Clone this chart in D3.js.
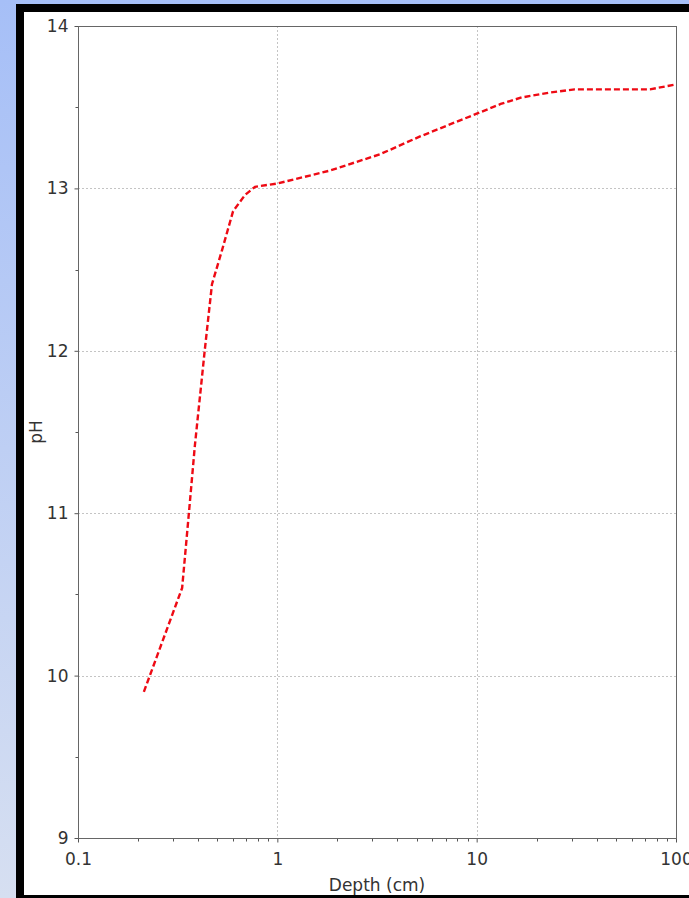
<!DOCTYPE html>
<html>
<head>
<meta charset="utf-8">
<script src="https://cdn.jsdelivr.net/npm/d3@7"></script>
<style>
  body { margin: 0; overflow: hidden; }
  text { font-family: "DejaVu Sans", sans-serif; fill: #333; }
</style>
</head>
<body>
<div id="chart"></div>
<script>
// depth (cm) and pH
var depth = [0.214, 0.333, 0.36, 0.386, 0.433, 0.47, 0.528, 0.60, 0.689, 0.773, 1.0, 1.84, 3.27, 5.2, 10, 13.2, 16.8, 23.3, 31, 74, 100];
var ph    = [9.90, 10.54, 11.00, 11.42, 12.01, 12.41, 12.62, 12.86, 12.96, 13.01, 13.03, 13.11, 13.21, 13.32, 13.46, 13.52, 13.56, 13.59, 13.61, 13.61, 13.64];

var xTicks = [0.1, 1, 10, 100];
var yTicks = [9, 10, 11, 12, 13, 14];

var width = 689,
    height = 898;

var svg = d3.select("#chart").append("svg")
    .attr("width", width)
    .attr("height", height);

// background: blue gradient + black frame + white page
var grad = svg.append("defs").append("linearGradient")
    .attr("id", "bg")
    .attr("x1", 0).attr("y1", 0).attr("x2", 0).attr("y2", 1);
grad.append("stop").attr("offset", "0%").attr("stop-color", "#a6bff7");
grad.append("stop").attr("offset", "100%").attr("stop-color", "#d6dff1");

svg.append("rect").attr("width", width).attr("height", height).attr("fill", "url(#bg)");
svg.append("rect").attr("x", 16).attr("y", 4).attr("width", width - 16).attr("height", height - 4).attr("fill", "#000");
svg.append("rect").attr("x", 24).attr("y", 12).attr("width", width - 24).attr("height", 883).attr("fill", "#fff");

var pLeft = 78, pRight = 676, pTop = 26, pBottom = 838;

var x = d3.scaleLog().domain([0.1, 100]).range([pLeft, pRight]);
var y = d3.scaleLinear().domain([9, 14]).range([pBottom, pTop]);

// grid
svg.append("g").selectAll("line")
    .data(xTicks.slice(1, -1))
    .enter().append("line")
    .attr("x1", function(d) { return Math.round(x(d)) + 0.5; })
    .attr("x2", function(d) { return Math.round(x(d)) + 0.5; })
    .attr("y1", pTop).attr("y2", pBottom)
    .attr("stroke", "#c4c4c4").attr("stroke-dasharray", "2,2");

svg.append("g").selectAll("line")
    .data(yTicks.slice(1, -1))
    .enter().append("line")
    .attr("y1", function(d) { return Math.round(y(d)) + 0.5; })
    .attr("y2", function(d) { return Math.round(y(d)) + 0.5; })
    .attr("x1", pLeft).attr("x2", pRight)
    .attr("stroke", "#c4c4c4").attr("stroke-dasharray", "2,2");

// axes
var minorX = [];
[0.1, 1, 10].forEach(function(b) {
    for (var i = 2; i <= 9; i++) minorX.push(b * i);
});

var xAxis = svg.append("g")
    .attr("transform", "translate(0," + (pBottom + 0.5) + ")")
    .call(d3.axisBottom(x).tickValues(xTicks).tickFormat(d3.format("")).tickSize(4).tickPadding(10));

svg.append("g")
    .attr("transform", "translate(0," + (pBottom + 0.5) + ")")
    .selectAll("line")
    .data(minorX)
    .enter().append("line")
    .attr("x1", function(d) { return Math.round(x(d)) + 0.5; })
    .attr("x2", function(d) { return Math.round(x(d)) + 0.5; })
    .attr("y1", 0).attr("y2", 3)
    .attr("stroke", "#555");

var yAxis = svg.append("g")
    .attr("transform", "translate(" + (pLeft + 0.5) + ",0)")
    .call(d3.axisLeft(y).tickValues(yTicks).tickFormat(d3.format("d")).tickSize(4).tickPadding(6));

svg.append("g")
    .attr("transform", "translate(" + (pLeft + 0.5) + ",0)")
    .selectAll("line")
    .data([9.5, 10.5, 11.5, 12.5, 13.5])
    .enter().append("line")
    .attr("y1", function(d) { return Math.round(y(d)) + 0.5; })
    .attr("y2", function(d) { return Math.round(y(d)) + 0.5; })
    .attr("x1", -3).attr("x2", 0)
    .attr("stroke", "#555");

[xAxis, yAxis].forEach(function(a) {
    a.select(".domain").remove();
    a.selectAll(".tick line").attr("stroke", "#555");
    a.selectAll("text").attr("font-size", 17).style("fill", "#333").style("font-family", "DejaVu Sans");
});

// plot border
svg.append("rect")
    .attr("x", pLeft + 0.5).attr("y", pTop + 0.5)
    .attr("width", pRight - pLeft).attr("height", pBottom - pTop)
    .attr("fill", "none").attr("stroke", "#666");

// series
var line = d3.line()
    .x(function(d, i) { return x(depth[i]); })
    .y(function(d, i) { return y(ph[i]); });

svg.append("path")
    .datum(ph)
    .attr("d", line)
    .attr("fill", "none")
    .attr("stroke", "#ee0a14")
    .attr("stroke-width", 2.4)
    .attr("stroke-dasharray", "6,3");

// axis titles
svg.append("text")
    .attr("x", (pLeft + pRight) / 2)
    .attr("y", 891)
    .attr("text-anchor", "middle")
    .attr("font-size", 17)
    .text("Depth (cm)");

svg.append("text")
    .attr("transform", "translate(42," + (pTop + pBottom) / 2 + ") rotate(-90)")
    .attr("text-anchor", "middle")
    .attr("font-size", 17)
    .text("pH");
</script>
</body>
</html>
